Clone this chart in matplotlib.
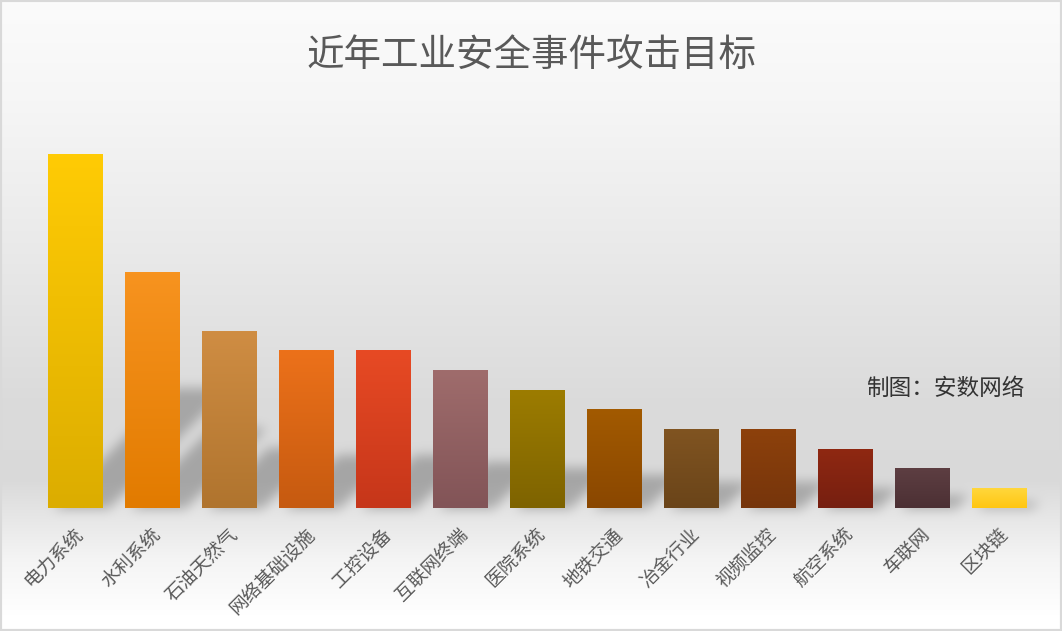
import numpy as np
import matplotlib
matplotlib.use("Agg")
import matplotlib.pyplot as plt
from matplotlib.colors import to_rgb
from matplotlib.patches import Rectangle

plt.rcParams['font.family'] = ['Noto Sans CJK SC', 'DejaVu Sans']

# 数据
targets = ["电力系统", "水利系统", "石油天然气", "网络基础设施", "工控设备", "互联网终端",
           "医院系统", "地铁交通", "冶金行业", "视频监控", "航空系统", "车联网", "区块链"]
counts = [18, 12, 9, 8, 8, 7, 6, 5, 4, 4, 3, 2, 1]
top_colors = ["#ffcb05", "#f7931f", "#cf8d43", "#ec711a", "#e74a24", "#9f6c6c", "#9c7c00",
              "#a25a00", "#805421", "#8d410b", "#8f2812", "#5d3e42", "#ffd73c"]
bottom_colors = ["#dcad00", "#e27b00", "#b0742e", "#c65a10", "#c6361a", "#825457", "#7e6300",
                 "#8a4700", "#6a4419", "#76350b", "#761f10", "#4c3034", "#ffc612"]

W, H, DPI = 1062, 631, 100
fig = plt.figure(figsize=(W / DPI, H / DPI), dpi=DPI)

# 背景渐变
bg = fig.add_axes([0, 0, 1, 1], zorder=0)
bg.axis('off')
yy = np.arange(H)
stops_y = [0, 100, 250, 400, 480, 510, 560, 615, 631]
stops_v = [0.985, 0.965, 0.915, 0.858, 0.853, 0.895, 0.96, 1.0, 1.0]
col = np.interp(yy, stops_y, stops_v)
gray = np.repeat(col[:, None], W, axis=1)

ax = fig.add_axes([0.0344, 0.1949, 0.9426, 0.623], zorder=2)
ax.set_xlim(-0.5, len(counts) - 0.5)
ax.set_ylim(0, 20)
ax.patch.set_alpha(0)
ax.axis('off')

bar_w = 0.714
x = np.arange(len(counts))

# 阴影 (根据柱子位置计算)
mask = np.zeros((H, W))
XX = np.arange(W)[None, :]
YY = np.arange(H)[:, None]
for i, v in enumerate(counts):
    (xl, y0), (xr, y1) = ax.transData.transform([(i - bar_w / 2, 0), (i + bar_w / 2, v)])
    base = H - y0
    h = y1 - y0
    up = base - YY  # 离基线的高度
    sh = 0.34 * h
    inside = (up >= 0) & (up <= sh) & (XX >= xl + up * 1.0 + 6) & (XX <= xr + up * 1.0 + 6)
    mask = np.maximum(mask, inside.astype(float))


def blur(a, r, axis):
    out = np.zeros_like(a)
    for s in range(-r, r + 1):
        out += np.roll(a, s, axis=axis)
    return out / (2 * r + 1)


for _ in range(3):
    mask = blur(mask, 5, 0)
    mask = blur(mask, 5, 1)
gray = gray * (1 - 0.24 * mask)
bg.imshow(np.dstack([gray] * 3), extent=[0, W, H, 0], aspect='auto', interpolation='bilinear')
bg.set_xlim(0, W)
bg.set_ylim(H, 0)

# 渐变柱子
for i, v in enumerate(counts):
    c1 = np.array(to_rgb(top_colors[i]))
    c2 = np.array(to_rgb(bottom_colors[i]))
    t = np.linspace(0, 1, 64)[:, None]
    img = (c1 * (1 - t) + c2 * t)[:, None, :]
    ax.imshow(img, extent=[i - bar_w / 2, i + bar_w / 2, 0, v], aspect='auto',
              interpolation='bilinear', zorder=3)
ax.set_xlim(-0.5, len(counts) - 0.5)
ax.set_ylim(0, 20)

# 类别标签
for i, name in enumerate(targets):
    ax.annotate(name, xy=(i, 0), xytext=(4, -17), textcoords='offset points',
                rotation=45, rotation_mode='anchor', ha='right', va='center',
                fontsize=13.5, color='#595959', fontweight='light')

fig.text(0.5, 0.912, "近年工业安全事件攻击目标", ha='center', va='center',
         fontsize=27, color='#595959', fontweight='medium')
fig.text(0.8155, 0.385, "制图：安数网络", ha='left', va='center',
         fontsize=16.3, color='#333333')

fig.patches.append(Rectangle((0, 0), 1, 1, transform=fig.transFigure, fill=False,
                             edgecolor='#d9d9d9', linewidth=3, zorder=10))

fig.savefig("out.png", dpi=DPI)
